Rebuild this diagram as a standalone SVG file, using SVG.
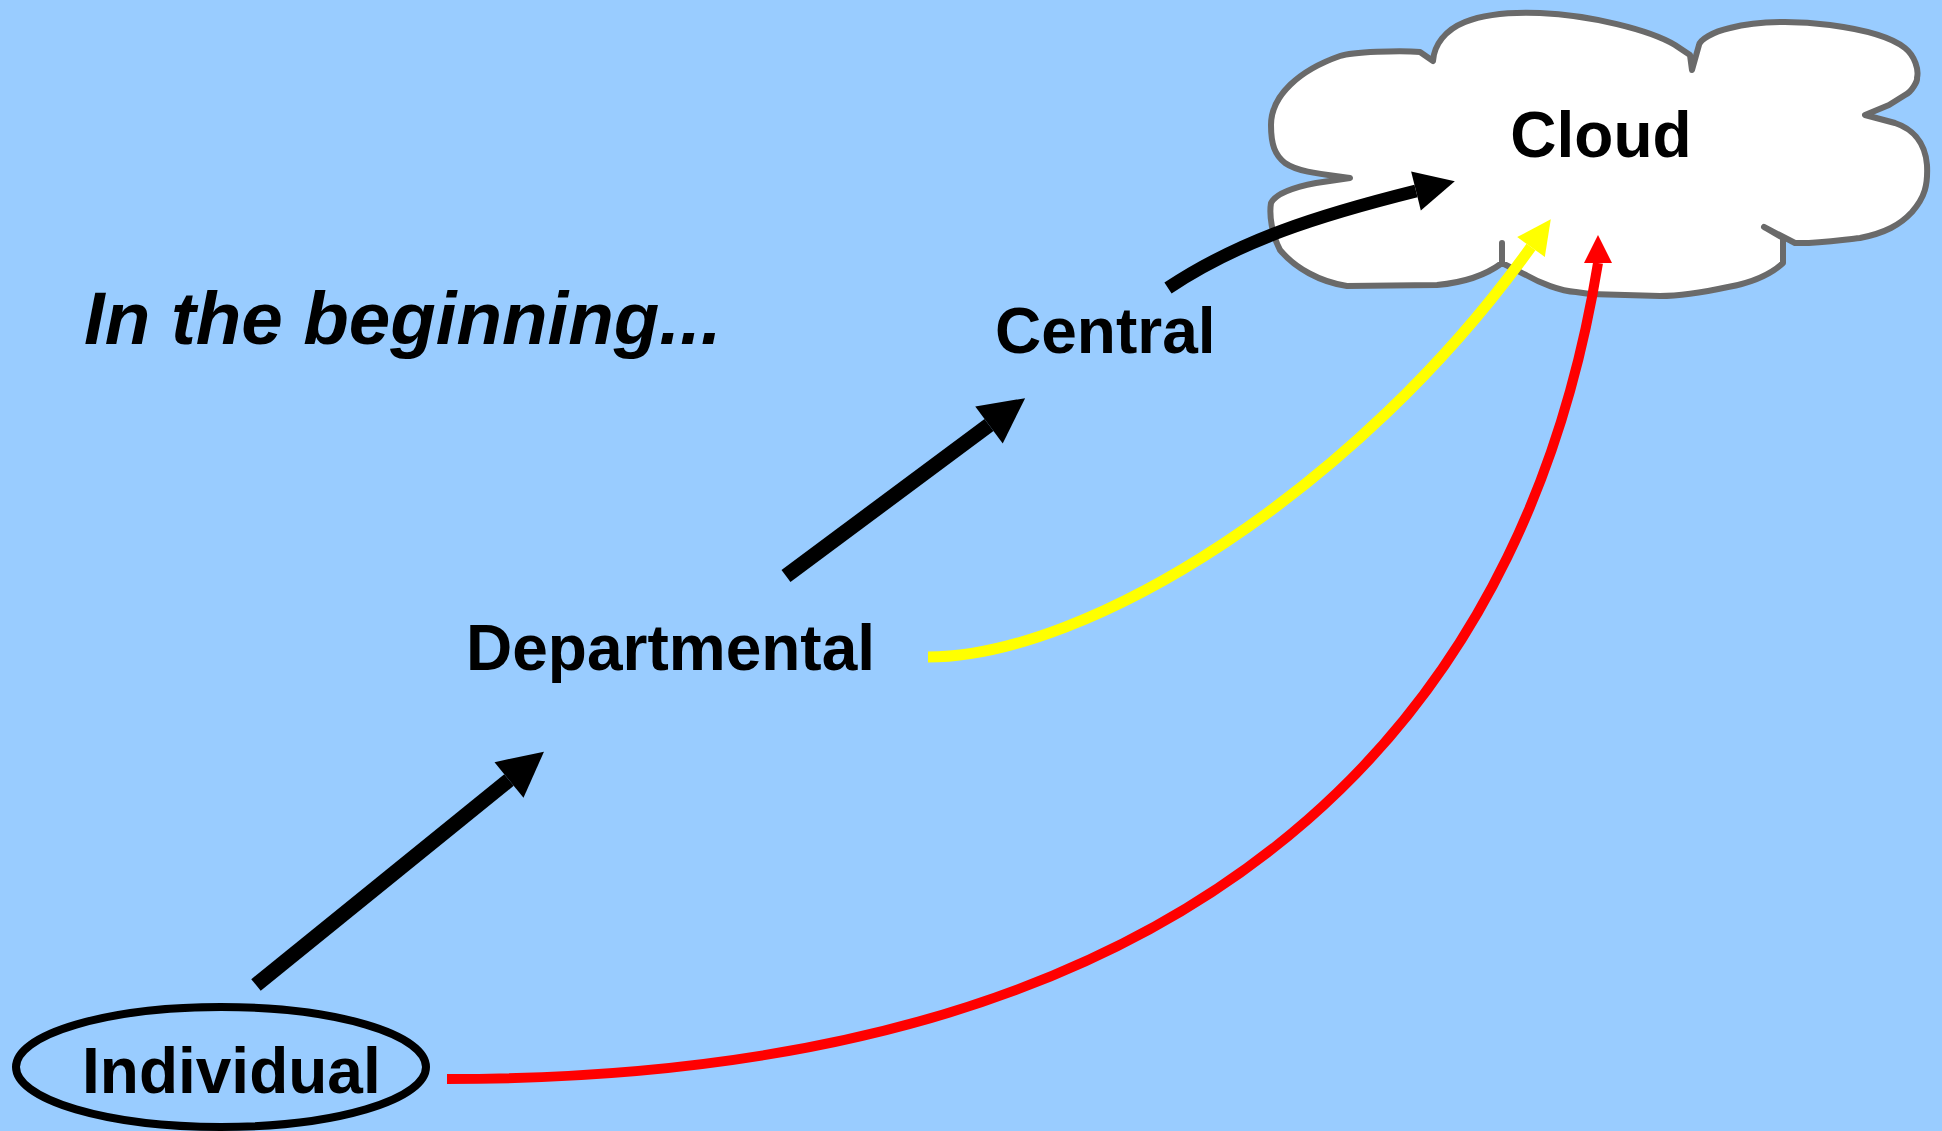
<svg xmlns="http://www.w3.org/2000/svg" width="1942" height="1131" viewBox="0 0 1942 1131">
<style>
.lbl{font-family:"Liberation Sans",Arial,sans-serif;font-weight:700;font-size:64px;fill:#000}
.ttl{font-size:74.5px;font-style:italic}
.conn{fill:none}
</style>
<defs>
<marker id="hb" markerUnits="userSpaceOnUse" markerWidth="46" markerHeight="48" refX="0" refY="24" orient="auto" overflow="visible"><path d="M0,1 L45,24 L0,47 Z" fill="#000"/></marker>
<marker id="hc" markerUnits="userSpaceOnUse" markerWidth="41" markerHeight="42" refX="0" refY="21" orient="auto" overflow="visible"><path d="M0,1 L40,21 L0,41 Z" fill="#000"/></marker>
<marker id="hy" markerUnits="userSpaceOnUse" markerWidth="35" markerHeight="36" refX="0" refY="18" orient="auto" overflow="visible"><path d="M0,1 L34,18 L0,35 Z" fill="#ff0"/></marker>
<marker id="hr" markerUnits="userSpaceOnUse" markerWidth="29" markerHeight="30" refX="0" refY="15" orient="-90" overflow="visible"><path d="M0,1 L28,15 L0,29 Z" fill="#f00"/></marker>
</defs>
<rect width="1942" height="1131" fill="#99ccff"/>
<g id="cloud">
<path fill="#fff" stroke="#6a6a6a" stroke-width="6" stroke-linejoin="round" d="M1350,178 C1320,174 1298,172 1285,163 C1275,155 1271,145 1271,125 C1271,95 1300,70 1340,56 C1352,52 1400,50 1420,52 L1433,61 C1434,45 1445,30 1465,22 C1485,14 1515,12 1540,13 C1590,15 1650,30 1675,45 L1690,55 L1692,70 L1699,45 C1700,40 1712,32 1730,28 C1760,20 1800,21 1830,25 C1860,29 1890,36 1905,48 C1915,56 1919,70 1917,78 C1918,80 1912,92 1905,95 L1889,105 L1865,115 L1895,123 C1910,128 1925,140 1927,165 C1928,185 1925,197 1912,212 C1900,225 1885,233 1860,238 C1840,240 1815,244 1795,243 L1764,227 L1783,238 L1783,263 C1770,275 1750,283 1728,287 C1700,293 1680,296 1660,296 L1590,294 L1576,292 C1560,291 1540,283 1526,275 L1502,263 L1502,243 L1502,263 C1490,272 1470,282 1437,285 L1347,286 C1320,282 1295,268 1280,250 C1272,235 1269,215 1271,203 C1275,195 1290,188 1316,183 Z"/>
<text class="lbl" x="1601" y="157" text-anchor="middle">Cloud</text>
</g>
<g id="title"><text class="lbl ttl" x="84" y="344">In the beginning...</text></g>
<g id="central"><text class="lbl" x="995" y="353">Central</text></g>
<g id="departmental"><text class="lbl" x="466" y="670">Departmental</text></g>
<g id="individual">
<ellipse cx="221" cy="1067" rx="205" ry="60" fill="none" stroke="#000" stroke-width="8"/>
<text class="lbl" x="82" y="1093">Individual</text>
</g>
<g id="connectors" class="conn">
<path d="M256,985 L509,780" stroke="#000" stroke-width="15" marker-end="url(#hb)"/>
<path d="M786,576 L989,425" stroke="#000" stroke-width="15" marker-end="url(#hb)"/>
<path d="M1168,288 C1240,240 1320,215 1416,191" stroke="#000" stroke-width="13" marker-end="url(#hc)"/>
<path d="M928,657 C1088,657 1357,490 1531,247" stroke="#ff0" stroke-width="11" marker-end="url(#hy)"/>
<path d="M447,1079 C1272,1079 1534,659 1598,263" stroke="#f00" stroke-width="10" marker-end="url(#hr)"/>
</g>
</svg>
